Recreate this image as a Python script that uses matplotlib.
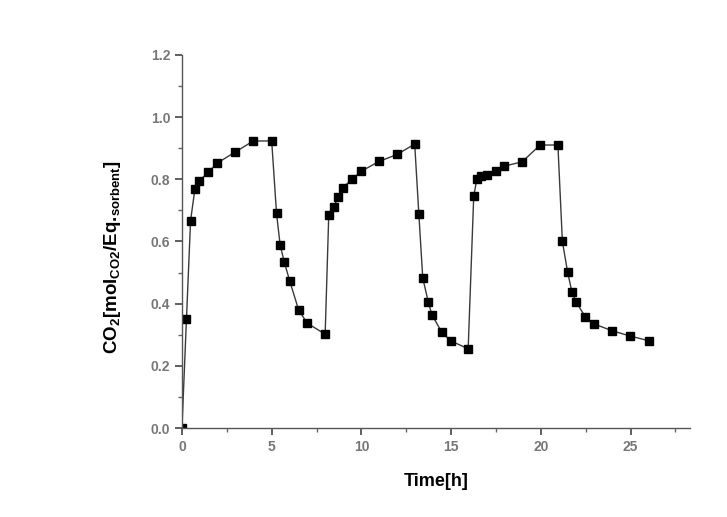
import matplotlib
matplotlib.use("Agg")
import matplotlib.pyplot as plt
from matplotlib.ticker import MultipleLocator

plt.rcParams['font.family'] = ['Liberation Sans', 'DejaVu Sans']

time_h = [0.0, 0.25, 0.48, 0.72, 0.97, 1.47, 1.97, 2.98, 3.98, 5.0,
          5.27, 5.47, 5.7, 6.0, 6.5, 6.98, 7.98,
          8.18, 8.46, 8.7, 8.96, 9.48, 10.0, 10.98, 12.0, 12.97,
          13.2, 13.42, 13.73, 13.93, 14.48, 14.99, 15.95,
          16.26, 16.44, 16.68, 17.0, 17.48, 17.96, 18.96, 19.96, 20.95,
          21.2, 21.49, 21.73, 21.97, 22.47, 22.95, 23.97, 24.97, 26.0]
co2 = [0.0, 0.35, 0.667, 0.768, 0.795, 0.823, 0.852, 0.888, 0.923, 0.923,
       0.69, 0.589, 0.534, 0.474, 0.38, 0.337, 0.302,
       0.684, 0.712, 0.742, 0.773, 0.80, 0.826, 0.857, 0.88, 0.913,
       0.689, 0.482, 0.405, 0.364, 0.308, 0.28, 0.255,
       0.746, 0.802, 0.809, 0.815, 0.828, 0.842, 0.856, 0.91, 0.91,
       0.60, 0.502, 0.438, 0.405, 0.358, 0.335, 0.313, 0.296, 0.281]

fig = plt.figure(figsize=(7.27, 5.17), dpi=100)
ax = fig.add_axes([0.2503, 0.172, 0.6985, 0.722])

ax.plot(time_h, co2, color='#3a3a3a', linewidth=1.0, marker='s',
        markersize=6.2, markerfacecolor='black', markeredgecolor='black')

ax.set_xlim(0, 28.3)
ax.set_ylim(0, 1.2)
ax.xaxis.set_major_locator(MultipleLocator(5))
ax.xaxis.set_minor_locator(MultipleLocator(2.5))
ax.yaxis.set_major_locator(MultipleLocator(0.2))
ax.yaxis.set_minor_locator(MultipleLocator(0.1))
ax.yaxis.set_major_formatter(matplotlib.ticker.FormatStrFormatter('%.1f'))

for s in ['top', 'right']:
    ax.spines[s].set_visible(False)
for s in ['left', 'bottom']:
    ax.spines[s].set_color('#555555')
    ax.spines[s].set_linewidth(1.0)

ax.tick_params(which='major', direction='out', length=5, width=1.2,
               color='#444444', labelcolor='#777777', labelsize=10)
ax.tick_params(which='minor', direction='out', length=3, width=1.0,
               color='#666666')
for lab in ax.get_xticklabels() + ax.get_yticklabels():
    lab.set_fontweight('bold')

ax.set_xlabel('Time[h]', fontsize=13, fontweight='bold', labelpad=14)
ax.set_ylabel(r'CO$_\mathregular{2}$[mol$_\mathregular{CO2}$/Eq.$_\mathregular{sorbent}$]',
              fontsize=13.5, fontweight='bold')
ax.yaxis.set_label_coords(-0.116, 0.458)

fig.savefig('out.png', dpi=100)
